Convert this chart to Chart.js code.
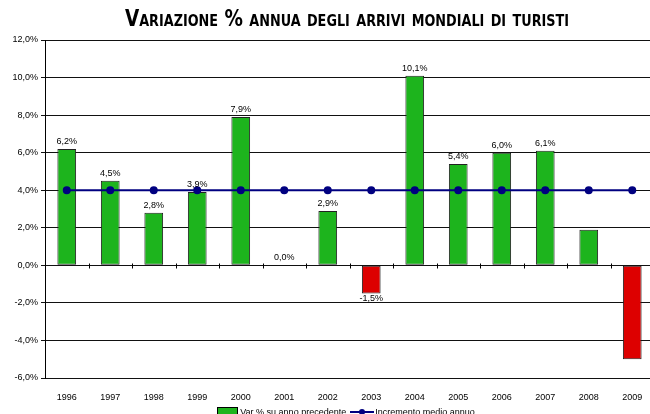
<!DOCTYPE html>
<html>
<head>
<meta charset="utf-8">
<script src="https://cdn.jsdelivr.net/npm/chart.js@4"></script>
<style>
    html, body { margin: 0; padding: 0; background: #fff; }
    #wrap { position: relative; width: 650px; height: 414px; overflow: hidden; }
    #box { position: absolute; left: 0; top: 0; width: 660px; height: 414px; }
    #title {
        position: absolute; left: 46px; top: 5px; width: 602px; text-align: center;
        font: bold 23px "DejaVu Sans Condensed", "DejaVu Sans", sans-serif;
        font-variant: small-caps; color: #000; line-height: 27px;
        transform: scaleX(0.89); transform-origin: 50% 50%;
    }
    #legend {
        position: absolute; left: 42px; top: 406px; width: 608px; text-align: center;
        font: 9px "Liberation Sans", Arial, sans-serif; color: #000; white-space: nowrap;
    }
    #legend span { display: inline-block; vertical-align: middle; }
    .sw { width: 21px; height: 9px; background: #1db41d; border: 1px solid #000; box-sizing: border-box; margin-right: 2px; }
    .ln { position: relative; width: 24px; height: 9px; margin-left: 4px; margin-right: 1px; }
    .ln:before { content: ''; position: absolute; left: 0; right: 0; top: 4px; height: 2px; background: #000080; }
    .ln:after { content: ''; position: absolute; left: 9px; top: 2px; width: 6px; height: 6px; border-radius: 50%; background: #000080; }
</style>
</head>
<body>
<div id="wrap">
    <div id="box"><canvas id="chart"></canvas></div>
    <div id="title">Variazione % annua degli arrivi mondiali di turisti</div>
    <div id="legend"><span class="sw"></span><span>Var % su anno precedente</span><span class="ln"></span><span>Incremento medio annuo</span></div>
</div>
<script>
const years = ['1996', '1997', '1998', '1999', '2000', '2001', '2002', '2003', '2004', '2005', '2006', '2007', '2008', '2009'];
const variation = [6.2, 4.5, 2.8, 3.9, 7.9, 0.0, 2.9, -1.5, 10.1, 5.4, 6.0, 6.1, 1.9, -5.0];
const averageGrowth = [4, 4, 4, 4, 4, 4, 4, 4, 4, 4, 4, 4, 4, 4];
const showLabel = [true, true, true, true, true, true, true, true, true, true, true, true, false, false];
const yTicks = [-6, -4, -2, 0, 2, 4, 6, 8, 10, 12];

const fmt = v => v.toFixed(1).replace('.', ',') + '%';

// little tick marks on the zero line, between the categories
const zeroTicks = {
    id: 'zeroTicks',
    afterDatasetsDraw(chart) {
        const ctx = chart.ctx;
        const x = chart.scales.x;
        const y0 = Math.round(chart.scales.y.getPixelForValue(0)) + 0.5;
        ctx.save();
        ctx.strokeStyle = '#000';
        ctx.lineWidth = 1;
        for (let i = 1; i < years.length; i++) {
            const px = Math.round((x.getPixelForValue(i - 1) + x.getPixelForValue(i)) / 2) + 0.5;
            ctx.beginPath();
            ctx.moveTo(px, y0 - 2);
            ctx.lineTo(px, y0 + 3);
            ctx.stroke();
        }
        ctx.restore();
    }
};

const valueLabels = {
    id: 'valueLabels',
    afterDatasetsDraw(chart) {
        const ctx = chart.ctx;
        const meta = chart.getDatasetMeta(0);
        ctx.save();
        ctx.font = '9px "Liberation Sans", Arial, sans-serif';
        ctx.fillStyle = '#000';
        ctx.textAlign = 'center';
        meta.data.forEach((bar, i) => {
            if (!showLabel[i]) return;
            const v = variation[i];
            if (v < 0) {
                ctx.textBaseline = 'top';
                ctx.fillText(fmt(v), bar.x, bar.y + 1);
            } else {
                ctx.textBaseline = 'bottom';
                ctx.fillText(fmt(v), bar.x, bar.y - 3);
            }
        });
        ctx.restore();
    }
};

new Chart(document.getElementById('chart'), {
    type: 'bar',
    data: {
        labels: years,
        datasets: [{
            type: 'bar',
            label: 'Var % su anno precedente',
            data: variation,
            backgroundColor: variation.map(v => v < 0 ? '#dd0000' : '#1db41d'),
            borderColor: '#222',
            borderWidth: 1,
            borderSkipped: false,
            categoryPercentage: 1,
            barPercentage: 0.43,
            order: 2
        }, {
            type: 'line',
            label: 'Incremento medio annuo',
            data: averageGrowth,
            borderColor: '#000080',
            borderWidth: 2,
            pointBackgroundColor: '#000080',
            pointBorderColor: '#000080',
            pointRadius: 3,
            fill: false,
            order: 1
        }]
    },
    options: {
        responsive: true,
        maintainAspectRatio: false,
        animation: false,
        layout: { padding: { top: 40, left: 0, right: 0, bottom: 0 } },
        plugins: {
            legend: { display: false },
            title: { display: false },
            tooltip: { enabled: false }
        },
        scales: {
            x: {
                grid: { display: false },
                border: { display: false },
                ticks: {
                    color: '#000',
                    font: { family: '"Liberation Sans", Arial, sans-serif', size: 9 },
                    maxRotation: 0,
                    padding: 6
                },
                afterFit: s => { s.height = 36; }
            },
            y: {
                min: -6,
                max: 12,
                afterBuildTicks: s => { s.ticks = yTicks.map(v => ({ value: v })); },
                grid: { color: '#111', lineWidth: 1, tickLength: 4 },
                border: { display: true, color: '#000', width: 1 },
                ticks: {
                    color: '#000',
                    font: { family: '"Liberation Sans", Arial, sans-serif', size: 9 },
                    padding: 3,
                    callback: v => fmt(v)
                },
                afterFit: s => { s.width = 45; }
            }
        }
    },
    plugins: [zeroTicks, valueLabels]
});
</script>
</body>
</html>
